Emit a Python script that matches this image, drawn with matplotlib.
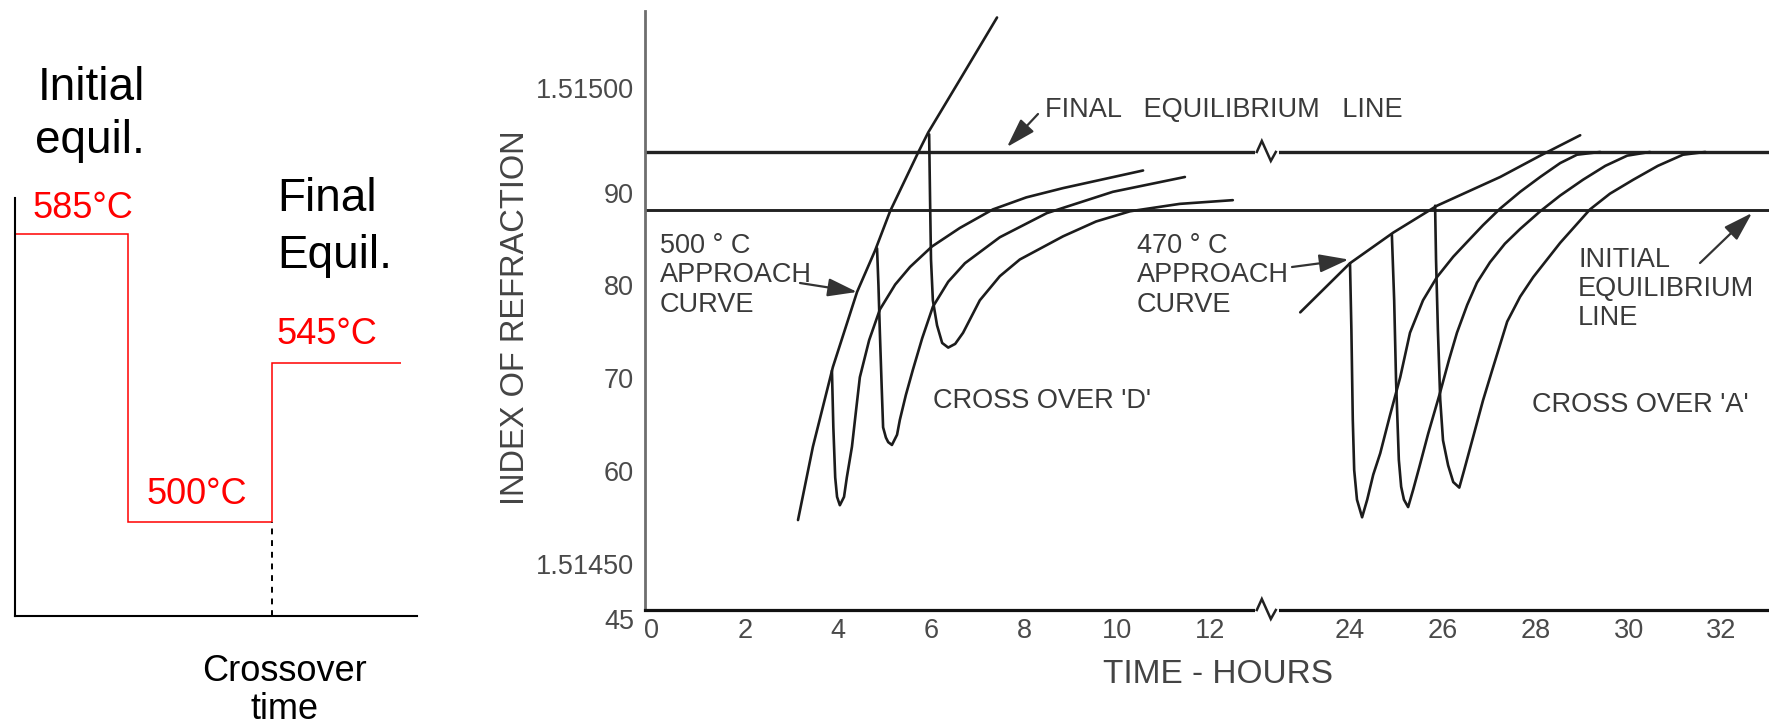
import numpy as np
import matplotlib
matplotlib.use('Agg')
import matplotlib.pyplot as plt
from matplotlib.lines import Line2D
from matplotlib.transforms import ScaledTranslation

plt.rcParams['font.family'] = ['Liberation Sans', 'DejaVu Sans']

W, H = 1769, 727

# ---------------- data: left schematic ----------------
step_edges = [0.0, 0.28, 0.64, 0.96]        # schematic time positions
step_levels = [0.914, 0.226, 0.606]          # schematic temperature levels
step_labels = ['585°C', '500°C', '545°C']

# ---------------- data: right chart ----------------
x_ticks = [0, 2, 4, 6, 8, 10, 12, 24, 26, 28, 30, 32]
x_ticklabels = [str(v) for v in x_ticks]
y_ticks = [45, 50, 60, 70, 80, 90, 100]
y_ticklabels = ['45', '1.51450', '60', '70', '80', '90', '1.51500']
final_equil = 94.4
initial_equil = 88.15

app500_t = [3.14, 3.46, 3.89, 4.41, 4.80, 5.12, 5.72, 5.94, 6.67, 7.42]
app500_v = [54.7, 62.6, 71.2, 79.3, 83.8, 88.0, 94.3, 96.5, 102.6, 108.9]

d1_t = [3.87, 3.90, 3.94, 3.98, 4.04, 4.13, 4.19, 4.30, 4.39, 4.47, 4.67, 4.90, 5.23, 5.55, 6.02, 6.62, 7.33, 8.05, 8.84, 10.56]
d1_v = [70.8, 64.7, 59.3, 57.2, 56.3, 57.2, 59.3, 62.6, 66.6, 70.1, 74.1, 77.4, 80.1, 82.0, 84.2, 86.2, 88.2, 89.5, 90.5, 92.4]

d2_t = [4.84, 4.87, 4.90, 4.94, 4.97, 5.03, 5.08, 5.16, 5.27, 5.33, 5.46, 5.61, 5.81, 6.04, 6.37, 6.73, 7.48, 8.49, 9.91, 11.46]
d2_v = [84.0, 80.0, 75.0, 69.0, 64.7, 63.6, 63.1, 62.8, 63.9, 65.5, 68.2, 70.9, 74.3, 77.7, 80.4, 82.4, 85.2, 87.8, 90.1, 91.7]

d3_t = [5.96, 5.98, 6.00, 6.04, 6.13, 6.24, 6.37, 6.52, 6.69, 7.05, 7.48, 7.91, 8.84, 9.55, 10.28, 11.35, 12.49]
d3_v = [96.3, 89.2, 82.8, 78.4, 75.7, 73.8, 73.3, 73.7, 74.9, 78.4, 81.0, 82.8, 85.3, 86.9, 88.0, 88.8, 89.2]

app470_t = [22.94, 24.01, 24.94, 25.88, 27.24, 28.10, 28.96]
app470_v = [77.1, 82.4, 85.7, 88.6, 91.7, 94.0, 96.2]

a1_t = [24.01, 24.04, 24.07, 24.10, 24.16, 24.27, 24.38, 24.51, 24.66, 24.87, 25.09, 25.30,
        25.58, 25.88, 26.23, 26.53, 26.87, 27.24, 27.67, 28.10, 28.53, 28.89, 29.39]
a1_v = [82.4, 75.2, 65.5, 60.1, 56.9, 55.0, 56.9, 59.6, 61.9, 66.0, 70.1, 74.9,
        78.4, 80.9, 83.1, 84.7, 86.5, 88.3, 90.1, 91.7, 93.2, 94.1, 94.4]

a2_t = [24.91, 24.96, 25.00, 25.06, 25.11, 25.17, 25.26, 25.37, 25.50, 25.69, 25.95, 26.14, 26.31,
        26.53, 26.74, 27.02, 27.34, 27.67, 28.10, 28.53, 29.02, 29.50, 29.97, 30.46]
a2_v = [85.5, 78.4, 69.8, 61.2, 58.3, 56.9, 56.1, 58.0, 60.4, 64.0, 68.5, 72.0, 74.9,
        77.9, 80.3, 82.5, 84.5, 86.1, 88.0, 89.7, 91.4, 92.9, 94.0, 94.4]

a3_t = [25.84, 25.86, 25.90, 25.95, 26.01, 26.12, 26.23, 26.36, 26.46, 26.66, 26.87, 27.07, 27.39,
        27.67, 27.95, 28.53, 29.17, 29.60, 30.10, 30.63, 31.17, 31.65]
a3_v = [88.6, 82.8, 75.2, 67.7, 63.3, 60.6, 58.8, 58.2, 60.0, 63.7, 67.6, 70.9, 76.1,
        78.8, 80.9, 84.6, 88.2, 89.9, 91.4, 92.9, 94.1, 94.4]

TIME_GAP = 9.0      # hours removed by the axis break
BREAK_T = 13.2      # where the break is drawn


def fx(x):
    return x / W


def fy(y):
    return 1 - y / H


fig = plt.figure(figsize=(W / 100, H / 100), dpi=100)
fig.patch.set_facecolor('white')

# ================= left schematic =================
axl = fig.add_axes([15 / W, (H - 616) / H, 402 / W, 418 / H])
axl.set_xlim(0, 1)
axl.set_ylim(0, 1)
axl.stairs(step_levels, step_edges, baseline=None, color='#ff0000', lw=1.1)
axl.vlines(step_edges[2], 0, step_levels[1], colors='black', lw=1.4,
           linestyles=(0, (3, 3)))
for s in ['top', 'right']:
    axl.spines[s].set_visible(False)
for s in ['left', 'bottom']:
    axl.spines[s].set_linewidth(1.5)
    axl.spines[s].set_color('black')
axl.set_xticks([])
axl.set_yticks([])
axl.patch.set_alpha(0)

fig.text(fx(38), fy(100), 'Initial', fontsize=33, ha='left', va='baseline')
fig.text(fx(35), fy(153), 'equil.', fontsize=33, ha='left', va='baseline')
fig.text(fx(277), fy(211), 'Final', fontsize=33, ha='left', va='baseline')
fig.text(fx(277), fy(268), 'Equil.', fontsize=33, ha='left', va='baseline')
fig.text(fx(32), fy(218), step_labels[0], fontsize=26, color='#ff0000', ha='left', va='baseline')
fig.text(fx(147), fy(504), step_labels[1], fontsize=26, color='#ff0000', ha='left', va='baseline')
fig.text(fx(276), fy(344), step_labels[2], fontsize=26, color='#ff0000', ha='left', va='baseline')
fig.text(fx(284), fy(681), 'Crossover', fontsize=26, ha='center', va='baseline')
fig.text(fx(284), fy(719), 'time', fontsize=26, ha='center', va='baseline')

# ================= right chart =================
ax = fig.add_axes([645 / W, (H - 610) / H, 1124 / W, 599 / H])


def fwd(t):
    t = np.asarray(t, dtype=float)
    return np.where(t > 18.0, t - TIME_GAP, t)


def inv(u):
    u = np.asarray(u, dtype=float)
    return np.where(u > BREAK_T, u + TIME_GAP, u)


ax.set_xscale('function', functions=(fwd, inv))
ax.set_xlim(-0.15, 33.02)
ax.set_ylim(45, 109.6)

line_col = '#1c1c1c'
ax.axhline(final_equil, color='#222222', lw=2.4, zorder=2)
ax.axhline(initial_equil, color='#222222', lw=2.1, zorder=2)

for t, v in [(app500_t, app500_v), (d1_t, d1_v), (d2_t, d2_v), (d3_t, d3_v),
             (app470_t, app470_v), (a1_t, a1_v), (a2_t, a2_v), (a3_t, a3_v)]:
    ax.plot(t, v, color=line_col, lw=1.9, solid_joinstyle='round',
            solid_capstyle='round', zorder=3)

for s in ['top', 'right']:
    ax.spines[s].set_visible(False)
ax.spines['left'].set_color('#6e6e6e')
ax.spines['left'].set_linewidth(2.0)
ax.spines['bottom'].set_color('#111111')
ax.spines['bottom'].set_linewidth(2.3)

ax.set_xticks(x_ticks)
ax.set_xticklabels(x_ticklabels)
ax.set_yticks(y_ticks)
ax.set_yticklabels(y_ticklabels)
ax.xaxis.set_minor_locator(matplotlib.ticker.NullLocator())
ax.yaxis.set_minor_locator(matplotlib.ticker.NullLocator())
ax.tick_params(axis='both', length=0, labelsize=19.5, labelcolor='#4a4a4a')
ax.tick_params(axis='x', pad=5.5)
ax.tick_params(axis='y', pad=8)
ax.patch.set_alpha(0)

# the scanned labels sit slightly off their nominal positions
ylabels = ax.get_yticklabels()
for lab, dy in [(ylabels[0], -9), (ylabels[-1], 12)]:
    lab.set_transform(lab.get_transform() + ScaledTranslation(0, dy / 100, fig.dpi_scale_trans))


# axis-break zigzags
def zigzag(t, v):
    tr = fig.dpi_scale_trans + ScaledTranslation(t, v, ax.transData)
    fig.add_artist(Line2D(np.array([-8, 9]) / 100, [0, 0], transform=tr,
                          color='white', lw=5, zorder=5))
    fig.add_artist(Line2D(np.array([-9, -4, 5, 10]) / 100,
                          np.array([0, 11, -9, 0]) / 100, transform=tr,
                          color='#222222', lw=1.8, zorder=6,
                          solid_joinstyle='miter'))


zigzag(BREAK_T, final_equil)
zigzag(BREAK_T, 45)

# labels
txt_col = '#3a3a3a'
fs = 19.5
fig.text(fx(516), fy(318), 'INDEX OF REFRACTION', rotation=90, fontsize=23.5,
         color='#444444', ha='center', va='center')
fig.text(fx(1218), fy(683), 'TIME - HOURS', fontsize=24, color='#444444',
         ha='center', va='baseline')

fig.text(fx(1045), fy(116.5), 'FINAL   EQUILIBRIUM   LINE', fontsize=fs, color=txt_col, va='baseline')
for i, s in enumerate(['500 ° C', 'APPROACH', 'CURVE']):
    fig.text(fx(660), fy(253 + 29.5 * i), s, fontsize=fs, color=txt_col, va='baseline')
for i, s in enumerate(['470 ° C', 'APPROACH', 'CURVE']):
    fig.text(fx(1137), fy(253 + 29.5 * i), s, fontsize=fs, color=txt_col, va='baseline')
for i, s in enumerate(['INITIAL', 'EQUILIBRIUM', 'LINE']):
    fig.text(fx(1578), fy(267 + 29 * i), s, fontsize=fs, color=txt_col, va='baseline')
fig.text(fx(933), fy(408), "CROSS OVER 'D'", fontsize=fs, color=txt_col, va='baseline')
fig.text(fx(1532), fy(412), "CROSS OVER 'A'", fontsize=fs, color=txt_col, va='baseline')

arrow = dict(arrowstyle='-|>,head_length=0.9,head_width=0.28', color='#333333',
             lw=1.6, shrinkA=0, shrinkB=0, mutation_scale=20)
fig.add_artist(matplotlib.patches.FancyArrowPatch(
    (fx(1038), fy(114)), (fx(1007), fy(147)), transform=fig.transFigure, **arrow))
ax.annotate('', xy=(4.41, 79.3), xycoords='data',
            xytext=(fx(800), fy(283)), textcoords='figure fraction', arrowprops=arrow)
ax.annotate('', xy=(23.98, 82.8), xycoords='data',
            xytext=(fx(1292), fy(267)), textcoords='figure fraction', arrowprops=arrow)
fig.add_artist(matplotlib.patches.FancyArrowPatch(
    (fx(1700), fy(263)), (fx(1752), fy(213)), transform=fig.transFigure, **arrow))

fig.savefig('out.png', dpi=100, facecolor='white')
